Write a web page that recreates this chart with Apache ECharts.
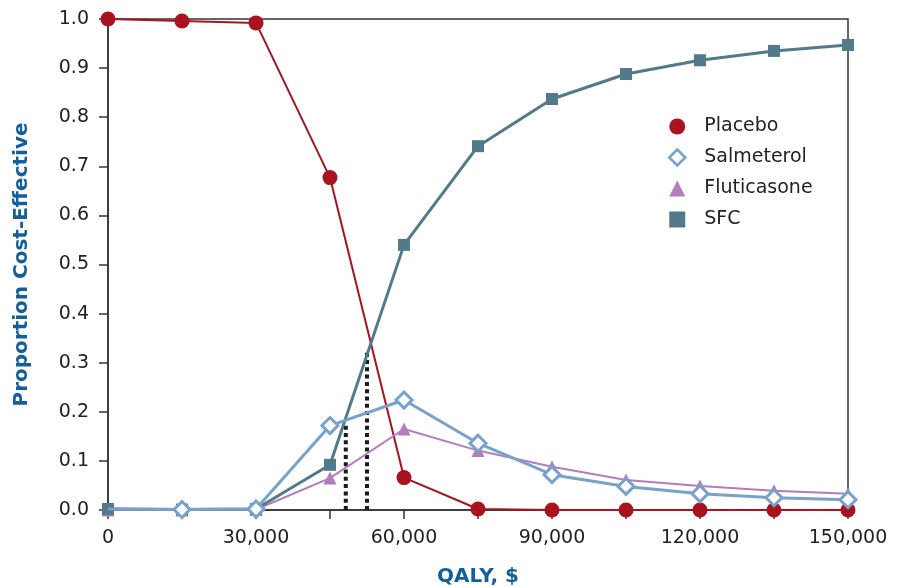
<!DOCTYPE html>
<html><head><meta charset="utf-8">
<script src="https://cdn.jsdelivr.net/npm/echarts@6/dist/echarts.min.js"></script>
<style>html,body{margin:0;padding:0;background:#fff}#c{width:901px;height:587px}</style>
</head><body><div id="c"></div>
<script>
var qaly = [0, 15000, 30000, 45000, 60000, 75000, 90000, 105000, 120000, 135000, 150000];
var placebo = [1.0, 0.996, 0.992, 0.677, 0.066, 0.002, 0.0, 0.0, 0.0, 0.0, 0.0];
var salmeterol = [0.002, 0.001, 0.002, 0.172, 0.224, 0.136, 0.072, 0.048, 0.033, 0.025, 0.021];
var fluticasone = [0.0, 0.0, 0.001, 0.065, 0.165, 0.121, 0.088, 0.061, 0.049, 0.039, 0.033];
var sfc = [0.002, 0.001, 0.002, 0.092, 0.540, 0.741, 0.837, 0.888, 0.916, 0.935, 0.947];
var drop1 = [[48200, 0], [48200, 0.175]];
var drop2 = [[52500, 0], [52500, 0.325]];

function pairs(ys){ return qaly.map(function(x,i){ return [x, ys[i]]; }); }
var font = 'DejaVu Sans, Liberation Sans, sans-serif';
var titleColor = '#135f9a';
var textColor = '#222';
var chart = echarts.init(document.getElementById('c'));
var salData = pairs(salmeterol);
salData[0] = {value: salData[0], symbol: 'none'};
chart.setOption({
  animation: false,
  grid: {left: 108, right: 53, top: 19, bottom: 77, outerBoundsMode: 'none', show: true, borderColor: '#333', borderWidth: 1.5, backgroundColor: 'transparent'},
  legend: {
    orient: 'vertical', left: 663, top: 112, itemWidth: 16, itemHeight: 16, itemGap: 12,
    textStyle: {fontFamily: font, fontSize: 19, color: textColor, padding: [0, 0, 0, 14]},
    data: [
      {name: 'Placebo', icon: 'circle'},
      {name: 'Salmeterol', icon: 'diamond', itemStyle: {borderWidth: 2.5}},
      {name: 'Fluticasone', icon: 'triangle'},
      {name: 'SFC', icon: 'rect'}
    ]
  },
  xAxis: {
    type: 'value', min: 0, max: 150000, interval: 15000,
    name: 'QALY, $', nameLocation: 'middle', nameGap: 57,
    nameTextStyle: {fontFamily: font, fontSize: 20, fontWeight: 'bold', color: titleColor},
    axisLine: {lineStyle: {color: '#333', width: 1.5}},
    axisTick: {show: true, length: 9, lineStyle: {color: '#333', width: 1.5}},
    axisLabel: {margin: 19, fontFamily: font, fontSize: 19, color: textColor,
      formatter: function(v){ return v % 30000 === 0 ? v.toLocaleString('en-US') : ''; }},
    splitLine: {show: false}
  },
  yAxis: {
    type: 'value', min: 0, max: 1, interval: 0.1,
    name: 'Proportion Cost-Effective', nameLocation: 'middle', nameGap: 76,
    nameTextStyle: {fontFamily: font, fontSize: 20, fontWeight: 'bold', color: titleColor},
    axisLine: {show: true, lineStyle: {color: '#333', width: 1.5}},
    axisTick: {show: true, length: 9, lineStyle: {color: '#333', width: 1.5}},
    axisLabel: {margin: 19, fontFamily: font, fontSize: 19, color: textColor,
      formatter: function(v){ return v.toFixed(1); }},
    splitLine: {show: false}
  },
  series: [
    {name: 'drop1', type: 'line', data: drop1, symbol: 'none', z: 1, silent: true,
      lineStyle: {color: '#1a1a1a', width: 4, type: [4, 3.3]}},
    {name: 'drop2', type: 'line', data: drop2, symbol: 'none', z: 1, silent: true,
      lineStyle: {color: '#1a1a1a', width: 4, type: [4, 3.3]}},
    {name: 'Placebo', type: 'line', data: pairs(placebo), symbol: 'circle', symbolSize: 15, z: 2,
      lineStyle: {color: '#a8131f', width: 2}, itemStyle: {color: '#a8131f'}},
    {name: 'Fluticasone', type: 'line', data: pairs(fluticasone), symbol: 'triangle', symbolSize: 13, z: 3,
      lineStyle: {color: '#b37dbb', width: 2}, itemStyle: {color: '#b37dbb'}},
    {name: 'SFC', type: 'line', data: pairs(sfc), symbol: 'rect', symbolSize: 12, z: 4,
      lineStyle: {color: '#527a8b', width: 3}, itemStyle: {color: '#527a8b'}},
    {name: 'Salmeterol', type: 'line', data: salData, symbol: 'diamond', symbolSize: 16, z: 5,
      lineStyle: {color: '#77a2cc', width: 3}, itemStyle: {color: '#fff', borderColor: '#77a2cc', borderWidth: 3}}
  ]
});
</script></body></html>
